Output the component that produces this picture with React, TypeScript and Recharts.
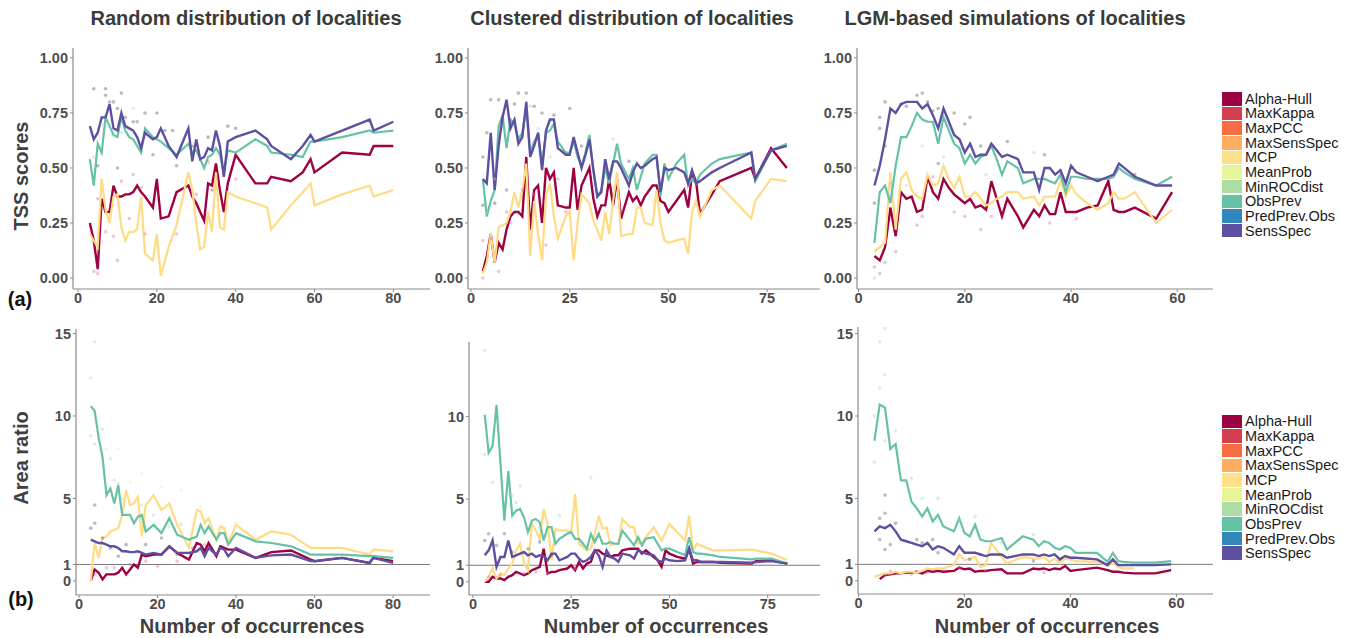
import React from "react";
import { ComposedChart, Line, Scatter, XAxis, YAxis, ReferenceLine } from "recharts";

const FONT = '"Liberation Sans", Arial, Helvetica, sans-serif';

// legend
const methodNames = ["Alpha-Hull", "MaxKappa", "MaxPCC", "MaxSensSpec", "MCP", "MeanProb", "MinROCdist", "ObsPrev", "PredPrev.Obs", "SensSpec"];
const methodColors = ["#9E0142", "#D53E4F", "#F46D43", "#FDAE61", "#FEE08B", "#E6F598", "#ABDDA4", "#66C2A5", "#3288BD", "#5E4FA2"];

const panelTitles = ["Random distribution of localities", "Clustered distribution of localities", "LGM-based simulations of localities"];

// ---- TSS, random
const xA1 = [3, 4, 5, 6, 7, 8, 9, 10, 11, 12, 13, 14, 15, 16, 17, 19, 20, 21, 23, 25, 28, 29, 30, 31, 32, 33, 34, 35, 36, 37, 38, 40, 45, 48, 49, 54, 57, 59, 60, 67, 74, 75, 80];
const sensA1 = [.69, .63, .66, .73, .73, .79, .68, .67, .75, .69, .68, .67, .64, .59, .66, .63, .64, .68, .60, .55, .68, .53, .63, .54, .55, .59, .58, .67, .60, .46, .62, .64, .67, .63, .60, .54, .60, .65, .62, .67, .72, .67, .71];
const obsA1 = [.54, .42, .61, .57, .73, .69, .65, .64, .73, .67, .64, .63, .60, .57, .68, .64, .63, .62, .59, .56, .61, .57, .58, .54, .50, .55, .56, .59, .56, .48, .58, .57, .63, .60, .57, .56, .55, .62, .62, .64, .67, .66, .67];
const hullA1 = [.25, .17, .04, .36, .30, .30, .42, .37, .37, .38, .38, .39, .42, .39, .37, .32, .45, .27, .28, .39, .42, .37, .34, .30, .26, .43, .42, .52, .40, .30, .43, .56, .43, .43, .46, .44, .48, .54, .48, .57, .56, .60, .60];
const mcpA1 = [.20, .17, .14, .45, .31, .25, .37, .38, .23, .17, .21, .21, .22, .37, .11, .08, .20, .01, .14, .24, .48, .40, .25, .13, .14, .30, .21, .48, .23, .22, .39, .37, .34, .32, .22, .33, .39, .43, .33, .38, .42, .37, .40];

// ---- TSS, clustered
const xA2 = [3, 4, 5, 6, 7, 8, 9, 10, 11, 12, 13, 14, 15, 16, 17, 18, 19, 20, 21, 22, 24, 25, 26, 27, 28, 29, 30, 31, 32, 33, 34, 35, 36, 37, 38, 40, 41, 42, 43, 44, 46, 47, 48, 49, 50, 52, 54, 55, 56, 57, 58, 61, 63, 71, 72, 76, 80];
const sensA2 = [.45, .43, .66, .40, .60, .73, .81, .68, .72, .61, .64, .80, .55, .60, .66, .49, .67, .72, .72, .59, .56, .56, .64, .57, .50, .56, .63, .49, .37, .39, .54, .45, .53, .53, .50, .42, .48, .52, .50, .51, .54, .55, .39, .50, .49, .50, .48, .43, .49, .43, .44, .48, .50, .57, .45, .58, .60];
const obsA2 = [.45, .28, .35, .40, .69, .74, .59, .72, .70, .63, .66, .77, .57, .62, .65, .52, .66, .67, .70, .62, .57, .57, .62, .55, .51, .57, .65, .49, .37, .40, .50, .43, .52, .61, .52, .45, .50, .40, .46, .52, .56, .56, .37, .52, .45, .52, .56, .42, .45, .43, .47, .52, .54, .57, .44, .58, .61];
const hullA2 = [.03, .10, .20, .07, .16, .13, .22, .28, .30, .30, .28, .55, .22, .40, .42, .25, .50, .45, .48, .33, .32, .32, .50, .31, .42, .46, .50, .36, .28, .33, .33, .45, .33, .45, .27, .39, .35, .37, .33, .37, .42, .42, .35, .34, .30, .35, .40, .32, .48, .44, .29, .38, .44, .50, .45, .59, .50];
const mcpA2 = [.02, .07, .20, .07, .23, .24, .25, .30, .39, .32, .40, .52, .10, .35, .20, .08, .38, .43, .28, .18, .28, .30, .08, .25, .38, .36, .34, .26, .22, .17, .30, .20, .35, .48, .19, .20, .20, .32, .32, .25, .24, .40, .25, .17, .16, .17, .18, .11, .30, .35, .28, .40, .42, .27, .35, .45, .44];

// ---- TSS, LGM
const xA3 = [3, 4, 5, 6, 7, 8, 9, 10, 11, 12, 13, 14, 15, 16, 17, 18, 19, 20, 21, 22, 23, 24, 25, 26, 27, 28, 30, 31, 33, 34, 35, 36, 37, 38, 39, 40, 41, 43, 45, 47, 48, 49, 50, 52, 56, 59];
const sensA3 = [.42, .51, .63, .77, .75, .79, .80, .80, .80, .77, .79, .74, .68, .77, .71, .65, .63, .57, .61, .55, .56, .56, .61, .58, .55, .56, .54, .48, .48, .40, .50, .50, .47, .49, .43, .51, .48, .46, .44, .46, .47, .52, .50, .46, .42, .42];
const obsA3 = [.16, .39, .42, .34, .51, .64, .64, .69, .75, .72, .71, .71, .61, .73, .67, .61, .59, .52, .56, .52, .55, .56, .60, .54, .47, .53, .50, .43, .45, .45, .45, .44, .43, .47, .39, .46, .46, .45, .45, .45, .46, .50, .48, .45, .42, .46];
const hullA3 = [.10, .08, .14, .32, .19, .39, .36, .37, .30, .31, .46, .39, .36, .45, .41, .38, .36, .34, .36, .32, .33, .31, .44, .36, .28, .36, .28, .23, .31, .28, .33, .29, .29, .39, .30, .30, .30, .32, .33, .44, .31, .30, .30, .32, .27, .39];
const mcpA3 = [.12, .14, .16, .48, .22, .45, .48, .40, .37, .36, .47, .42, .43, .51, .45, .41, .46, .37, .37, .39, .36, .33, .34, .36, .37, .39, .39, .36, .37, .33, .37, .37, .37, .44, .37, .42, .38, .34, .31, .34, .39, .36, .36, .39, .25, .31];

// ---- Area ratio, random
const xB1 = [3, 4, 5, 6, 7, 8, 9, 10, 11, 12, 13, 14, 15, 16, 17, 19, 21, 23, 25, 28, 30, 31, 32, 33, 35, 36, 37, 38, 40, 45, 49, 54, 59, 60, 67, 74, 75, 80];
const obsB1 = [10.6, 10.3, 8.7, 7.5, 5.2, 5.6, 4.7, 5.8, 4.0, 4.0, 4.0, 3.5, 3.9, 4.0, 3.0, 3.4, 2.9, 3.8, 2.8, 2.5, 2.7, 3.4, 2.9, 3.3, 2.5, 2.9, 2.9, 2.2, 2.9, 2.4, 2.3, 2.1, 1.6, 1.6, 1.6, 1.5, 1.5, 1.4];
const mcpB1 = [0.0, 2.3, 1.4, 2.6, 2.7, 3.0, 3.1, 3.2, 4.0, 5.5, 4.6, 4.7, 5.1, 2.7, 4.6, 5.2, 4.3, 4.7, 3.4, 2.0, 4.3, 4.2, 3.5, 3.8, 2.5, 3.3, 3.2, 2.3, 3.4, 2.5, 3.0, 2.8, 2.0, 2.0, 2.0, 1.6, 1.9, 1.8];
const sensB1 = [2.5, 2.4, 2.3, 2.3, 2.2, 2.1, 2.1, 2.0, 1.8, 1.8, 1.75, 1.75, 1.8, 1.7, 1.6, 1.7, 1.6, 2.1, 1.7, 1.7, 1.8, 2.0, 1.5, 2.0, 1.6, 2.0, 1.9, 1.5, 2.0, 1.4, 1.55, 1.6, 1.2, 1.2, 1.4, 1.1, 1.4, 1.1];
const hullB1 = [0.0, 0.7, 0.5, 0.1, 0.4, 0.4, 0.4, 0.5, 0.8, 0.4, 0.7, 1.0, 0.8, 1.6, 1.5, 1.6, 1.6, 2.1, 1.7, 1.3, 2.3, 2.2, 1.8, 2.3, 1.5, 2.1, 2.0, 1.9, 1.9, 1.4, 1.75, 1.85, 1.3, 1.2, 1.4, 1.1, 1.4, 1.2];

// ---- Area ratio, clustered (same occurrences as xA2)
const obsB2 = [10.1, 7.8, 8.2, 10.7, 7.2, 3.7, 6.7, 4.0, 4.3, 4.4, 3.9, 3.0, 3.7, 3.8, 3.6, 2.5, 3.3, 3.3, 2.3, 2.6, 2.9, 3.0, 2.6, 2.6, 2.3, 2.0, 2.9, 2.4, 2.9, 2.3, 2.3, 2.4, 2.3, 2.3, 3.1, 2.5, 2.2, 2.7, 2.2, 2.6, 2.7, 2.3, 1.9, 2.0, 2.0, 1.8, 1.6, 2.7, 1.8, 1.7, 1.7, 1.6, 1.5, 1.35, 1.4, 1.4, 1.1];
const mcpB2 = [0.0, 0.3, 0.8, 0.2, 0.5, 0.4, 0.8, 1.1, 1.9, 2.3, 1.1, 0.7, 3.5, 3.1, 2.6, 4.4, 3.5, 1.3, 3.2, 3.1, 3.1, 3.0, 5.3, 2.3, 2.1, 1.9, 2.0, 2.9, 4.0, 3.2, 3.3, 2.2, 2.3, 2.3, 3.8, 3.3, 3.3, 2.3, 2.4, 2.7, 3.3, 2.9, 2.5, 3.0, 3.5, 3.0, 2.5, 4.0, 1.9, 2.3, 2.2, 1.9, 1.9, 1.95, 1.9, 1.7, 1.3];
const sensB2 = [1.6, 1.9, 2.5, 0.9, 1.5, 1.5, 2.5, 1.5, 1.6, 1.7, 1.8, 1.6, 1.7, 1.5, 1.6, 1.55, 1.3, 1.7, 1.7, 1.3, 1.5, 1.7, 1.7, 1.4, 1.2, 1.3, 1.5, 1.9, 1.6, 0.9, 1.9, 1.5, 1.4, 1.2, 1.7, 1.6, 1.4, 1.9, 1.8, 1.7, 1.6, 1.3, 1.2, 1.4, 1.3, 1.25, 1.3, 2.0, 1.3, 1.3, 1.2, 1.2, 1.2, 1.15, 1.2, 1.25, 1.1];
const hullB2 = [0.0, 0.0, 0.3, 0.2, 0.2, 0.1, 0.3, 0.4, 0.6, 0.5, 0.4, 0.5, 0.7, 0.8, 0.9, 2.0, 0.5, 0.6, 0.6, 0.7, 0.8, 1.0, 0.7, 1.2, 0.8, 1.1, 1.2, 1.9, 1.9, 1.7, 1.6, 1.5, 1.6, 1.6, 1.9, 2.0, 2.0, 2.0, 1.7, 1.9, 1.5, 1.3, 0.9, 1.9, 1.7, 1.5, 1.4, 2.0, 1.1, 1.2, 1.2, 1.2, 1.15, 1.1, 1.25, 1.3, 1.1];

// ---- Area ratio, LGM
const xB3 = [3, 4, 5, 6, 7, 8, 9, 10, 11, 12, 13, 14, 15, 16, 18, 19, 20, 21, 22, 23, 24, 25, 27, 28, 31, 33, 34, 35, 36, 37, 38, 39, 40, 41, 45, 47, 48, 49, 50, 52, 56, 59];
const obsB3 = [8.5, 10.7, 10.5, 8.0, 8.3, 6.1, 6.1, 4.8, 4.4, 3.9, 4.4, 3.6, 4.0, 3.3, 3.0, 3.8, 2.9, 2.7, 3.4, 2.5, 2.4, 2.4, 2.6, 1.9, 2.7, 2.5, 2.1, 2.4, 2.3, 2.0, 1.9, 2.1, 2.0, 1.7, 1.7, 1.15, 1.7, 1.2, 1.15, 1.1, 1.1, 1.2];
const sensB3 = [3.0, 3.3, 3.2, 3.4, 3.0, 2.5, 2.4, 2.3, 2.2, 2.1, 2.3, 1.9, 2.1, 2.0, 1.6, 2.1, 1.7, 1.7, 1.7, 1.6, 1.5, 1.6, 1.6, 1.4, 1.6, 1.6, 1.5, 1.6, 1.5, 1.6, 1.3, 1.5, 1.4, 1.4, 1.3, 0.95, 1.3, 0.95, 0.95, 0.95, 0.95, 1.0];
const mcpB3 = [0.25, 0.35, 0.45, 0.45, 0.55, 0.45, 0.55, 0.55, 0.5, 0.6, 0.75, 0.7, 0.75, 0.75, 0.95, 1.6, 1.25, 1.35, 1.45, 0.85, 0.95, 2.3, 1.45, 1.05, 1.45, 1.35, 1.35, 1.45, 1.15, 1.35, 1.05, 1.35, 1.3, 1.2, 1.15, 0.95, 1.05, 0.85, 0.75, 0.75, null, null];
const hullB3 = [null, 0.1, 0.35, 0.4, 0.45, 0.45, 0.5, 0.5, 0.55, 0.45, 0.6, 0.55, 0.6, 0.55, 0.6, 0.8, 0.7, 0.75, 0.55, 0.6, 0.6, 0.65, 0.7, 0.45, 0.45, 0.75, 0.7, 0.75, 0.65, 0.75, 0.7, 0.9, 0.6, 0.65, 0.8, 0.65, 0.55, 0.55, 0.5, 0.45, 0.45, 0.65];

// faint replicate points [occurrences, value]
type Pt = [number, number];
const greyA1: Pt[] = [[4, .86], [7, .86], [7, .83], [8, .80], [9, .80], [11, .84], [10, .77], [12, .73], [14, .71], [15, .71], [17, .75], [20, .75], [22, .67], [24, .67], [33, .64], [38, .69], [40, .68], [5, .51], [10, .50], [25, .51], [34, .40], [29, .60], [19, .56]];
const pinkA1: Pt[] = [[4, .03], [5, .02], [7, .21], [10, .08], [9, .19], [6, .31], [5, .36], [11, .44], [13, .27], [16, .41], [17, .20], [25, .20], [30, .38], [33, .53], [40, .45], [14, .47]];
const greenA1: Pt[] = [[4, .55], [6, .70], [11, .66], [14, .77], [21, .62], [33, .52], [41, .58]];
const greyA2: Pt[] = [[3, .55], [4, .66], [5, .81], [7, .81], [11, .79], [12, .84], [14, .84], [16, .78], [18, .75], [21, .74], [25, .77], [3, .33], [9, .40], [6, .34], [28, .60], [40, .53], [35, .45], [12, .30]];
const pinkA2: Pt[] = [[3, .00], [5, .18], [7, .03], [9, .30], [10, .25], [13, .40], [16, .38], [19, .15], [22, .45], [24, .30], [38, .30], [3, .17]];
const greenA2: Pt[] = [[4, .30], [6, .45], [15, .78], [17, .68], [36, .63], [20, .55]];
const greyA3: Pt[] = [[3, .34], [3, .49], [4, .73], [4, .68], [5, .80], [5, .60], [8, .79], [9, .78], [11, .83], [12, .84], [13, .80], [14, .76], [15, .77], [18, .75], [20, .70], [21, .73], [23, .60], [28, .62], [35, .56], [40, .50], [52, .47], [15, .52]];
const pinkA3: Pt[] = [[3, .05], [4, .02], [5, .07], [7, .12], [11, .24], [12, .28], [14, .46], [18, .30], [20, .28], [23, .22], [25, .28], [36, .25], [41, .27]];
const greenA3: Pt[] = [[3, .00], [6, .43], [9, .42], [12, .60], [16, .55], [24, .47], [33, .57]];
const greenB1: Pt[] = [[3, 12.3], [4, 14.5], [3, 8.8], [4, 8.3], [6, 9.2], [8, 7.4], [9, 6.1], [10, 5.9], [11, 5.0], [13, 4.0], [16, 4.6], [19, 4.0], [23, 3.3], [26, 3.4]];
const yellowB1: Pt[] = [[7, 8.0], [10, 8.0], [13, 6.0], [16, 6.5], [21, 5.7], [26, 5.5], [31, 4.5], [40, 3.5]];
const greyB1: Pt[] = [[4, 4.6], [3, 3.2], [4, 3.5], [6, 2.6], [8, 2.0], [10, 1.5], [12, 2.2], [17, 2.2], [21, 2.6], [25, 1.6], [29, 2.0]];
const pinkB1: Pt[] = [[4, 0.4], [7, 0.8], [9, 0.8], [13, 1.0], [17, 1.2], [20, 0.9], [25, 1.2], [32, 2.2]];
const greenB2: Pt[] = [[3, 14.0], [3, 7.7], [5, 6.0], [6, 9.6], [10, 5.2], [12, 5.8], [11, 4.8], [17, 3.3], [22, 4.0], [30, 6.3]];
const greyB2: Pt[] = [[3, 2.5], [4, 2.9], [6, 2.2], [8, 2.9], [10, 1.8], [14, 2.0], [17, 2.4], [20, 1.6]];
const pinkB2: Pt[] = [[4, 0.3], [7, 0.4], [13, 0.5], [16, 0.6], [19, 0.5], [26, 0.8], [33, 1.2]];
const greenB3: Pt[] = [[3, 7.2], [3, 10.0], [4, 14.5], [4, 11.7], [5, 15.3], [5, 12.5], [5, 8.5], [7, 9.1], [10, 6.2], [12, 5.0], [15, 5.0], [19, 3.7], [22, 3.9], [27, 2.3], [33, 2.8]];
const greyB3: Pt[] = [[5, 5.2], [4, 3.8], [4, 2.5], [5, 4.1], [5, 1.9], [6, 2.2], [7, 3.5], [11, 2.5], [12, 2.3], [14, 2.5], [15, 1.7], [21, 1.3], [23, 1.6], [33, 1.2], [38, 1.3]];
const pinkB3: Pt[] = [[5, 0.3], [6, 0.6], [10, 0.4], [13, 0.5], [19, 0.8], [24, 0.6], [35, 0.5]];

const tssTicks = [0, 0.25, 0.5, 0.75, 1];

type V = number | null;
interface PanelProps {
  left: number; top: number; right: number; bottom: number;
  xDomain: [number, number]; yDomain: [number, number];
  xTicks: number[]; yTicks: number[];
  xs: number[]; hull: V[]; mcp: V[]; obs: V[]; sens: V[];
  dots: { pts: Pt[]; color: string }[];
  ratio?: boolean;
}

const tickStyle = { fill: "#4d4d4d", fontSize: 14.5, fontWeight: 700, fontFamily: FONT };

function Panel(p: PanelProps) {
  const padL = 60, padT = 8, padR = 4, padB = 26;
  const w = p.right - p.left + padL + padR;
  const h = p.bottom - p.top + padT + padB;
  const rows = p.xs.map((x, i) => ({ x, hull: p.hull[i], mcp: p.mcp[i], obs: p.obs[i], sens: p.sens[i] }));
  return (
    <div style={{ position: "absolute", left: p.left - padL, top: p.top - padT }}>
      <ComposedChart width={w} height={h} data={rows} margin={{ top: padT, right: padR, bottom: 0, left: 0 }}>
        <XAxis
          dataKey="x" type="number" domain={p.xDomain} ticks={p.xTicks} allowDataOverflow interval={0}
          height={padB} tickSize={3} tickMargin={1}
          axisLine={{ stroke: "#8c8c8c", strokeWidth: 1.2 }} tickLine={{ stroke: "#8c8c8c" }} tick={tickStyle}
        />
        <YAxis
          type="number" domain={p.yDomain} ticks={p.yTicks} allowDataOverflow interval={0}
          width={padL} tickSize={3} tickMargin={2}
          tickFormatter={(v: number) => (p.ratio ? String(v) : v.toFixed(2))}
          axisLine={{ stroke: "#8c8c8c", strokeWidth: 1.2 }} tickLine={{ stroke: "#8c8c8c" }} tick={tickStyle}
        />
        {p.ratio && <ReferenceLine y={1} stroke="#7a7a7a" strokeWidth={1} />}
        {p.dots.map((g, k) => (
          <Scatter
            key={k}
            data={g.pts.map(([x, y]) => ({ x, y }))}
            dataKey="y"
            isAnimationActive={false}
            shape={(s: any) => <circle cx={s.cx} cy={s.cy} r={1.8} fill={g.color} fillOpacity={0.4} />}
          />
        ))}
        <Line dataKey="hull" stroke="#9E0142" strokeWidth={2.4} dot={false} isAnimationActive={false} />
        <Line dataKey="mcp" stroke="#FEDB84" strokeWidth={2.2} dot={false} isAnimationActive={false} />
        <Line dataKey="obs" stroke="#66C2A5" strokeWidth={2.2} dot={false} isAnimationActive={false} />
        <Line dataKey="sens" stroke="#5E4FA2" strokeWidth={2.4} dot={false} isAnimationActive={false} />
      </ComposedChart>
    </div>
  );
}

function Legend({ top }: { top: number }) {
  return (
    <div style={{ position: "absolute", left: 1222, top }}>
      {methodNames.map((n, i) => (
        <div key={n} style={{ position: "absolute", top: i * 14.65, left: 0, height: 14.65, display: "flex", alignItems: "center" }}>
          <div style={{ width: 20, height: 13.5, background: methodColors[i] }} />
          <span style={{ marginLeft: 3, fontSize: 14.5, fontFamily: FONT, color: "#1a1a1a", whiteSpace: "nowrap", lineHeight: "14px" }}>{n}</span>
        </div>
      ))}
    </div>
  );
}

function Txt({ x, y, size, children, rotate, color }: { x: number; y: number; size: number; children: React.ReactNode; rotate?: boolean; color?: string }) {
  return (
    <div
      style={{
        position: "absolute", left: x, top: y, whiteSpace: "nowrap",
        transform: `translate(-50%, -50%)${rotate ? " rotate(-90deg)" : ""}`,
        fontFamily: FONT, fontWeight: 700, fontSize: size, color: color ?? "#404040", lineHeight: 1,
      }}
    >
      {children}
    </div>
  );
}

const GREY = "#55506a", PINK = "#d8709a", GREEN = "#9fd8b0", YELLOW = "#f6e49a";

export default function App() {
  return (
    <div style={{ position: "absolute", left: 0, top: 0, width: 1355, height: 638, background: "#fff", overflow: "hidden" }}>
      <Txt x={246} y={18} size={20} color="#3a3a3a">{panelTitles[0]}</Txt>
      <Txt x={632} y={18} size={20} color="#3a3a3a">{panelTitles[1]}</Txt>
      <Txt x={1015} y={18} size={20} color="#3a3a3a">{panelTitles[2]}</Txt>

      <Txt x={21} y={176} size={20} rotate>TSS scores</Txt>
      <Txt x={21} y={458} size={20} rotate>Area ratio</Txt>
      <Txt x={20} y={299} size={20} color="#111">(a)</Txt>
      <Txt x={21} y={599} size={20} color="#111">(b)</Txt>

      <Txt x={252} y={626} size={20}>Number of occurrences</Txt>
      <Txt x={656} y={626} size={20}>Number of occurrences</Txt>
      <Txt x={1047} y={626} size={20}>Number of occurrences</Txt>

      <Panel left={73} top={48} right={430} bottom={289} xDomain={[-1.27, 89.3]} yDomain={[-0.05, 1.045]}
        xTicks={[0, 20, 40, 60, 80]} yTicks={tssTicks} xs={xA1} hull={hullA1} mcp={mcpA1} obs={obsA1} sens={sensA1}
        dots={[{ pts: greyA1, color: GREY }, { pts: pinkA1, color: PINK }, { pts: greenA1, color: GREEN }]} />
      <Panel left={468} top={48} right={820} bottom={289} xDomain={[-0.76, 88.4]} yDomain={[-0.05, 1.045]}
        xTicks={[0, 25, 50, 75]} yTicks={tssTicks} xs={xA2} hull={hullA2} mcp={mcpA2} obs={obsA2} sens={sensA2}
        dots={[{ pts: greyA2, color: GREY }, { pts: pinkA2, color: PINK }, { pts: greenA2, color: GREEN }]} />
      <Panel left={857} top={48} right={1213} bottom={289} xDomain={[-0.28, 66.7]} yDomain={[-0.05, 1.045]}
        xTicks={[0, 20, 40, 60]} yTicks={tssTicks} xs={xA3} hull={hullA3} mcp={mcpA3} obs={obsA3} sens={sensA3}
        dots={[{ pts: greyA3, color: GREY }, { pts: pinkA3, color: PINK }, { pts: greenA3, color: GREEN }]} />

      <Panel left={76} top={329} right={430} bottom={595} xDomain={[-0.76, 89.4]} yDomain={[-0.85, 15.27]}
        xTicks={[0, 20, 40, 60, 80]} yTicks={[0, 1, 5, 10, 15]} xs={xB1} hull={hullB1} mcp={mcpB1} obs={obsB1} sens={sensB1} ratio
        dots={[{ pts: greenB1, color: GREEN }, { pts: yellowB1, color: YELLOW }, { pts: greyB1, color: GREY }, { pts: pinkB1, color: PINK }]} />
      <Panel left={469} top={342} right={820} bottom={595} xDomain={[-1.0, 88.3]} yDomain={[-0.8, 14.5]}
        xTicks={[0, 25, 50, 75]} yTicks={[0, 1, 5, 10]} xs={xA2} hull={hullB2} mcp={mcpB2} obs={obsB2} sens={sensB2} ratio
        dots={[{ pts: greenB2, color: GREEN }, { pts: greyB2, color: GREY }, { pts: pinkB2, color: PINK }]} />
      <Panel left={858} top={327} right={1213} bottom={594} xDomain={[-0.1, 66.9]} yDomain={[-0.8, 15.4]}
        xTicks={[0, 20, 40, 60]} yTicks={[0, 1, 5, 10, 15]} xs={xB3} hull={hullB3} mcp={mcpB3} obs={obsB3} sens={sensB3} ratio
        dots={[{ pts: greenB3, color: GREEN }, { pts: greyB3, color: GREY }, { pts: pinkB3, color: PINK }]} />

      <Legend top={91.5} />
      <Legend top={414} />
    </div>
  );
}
